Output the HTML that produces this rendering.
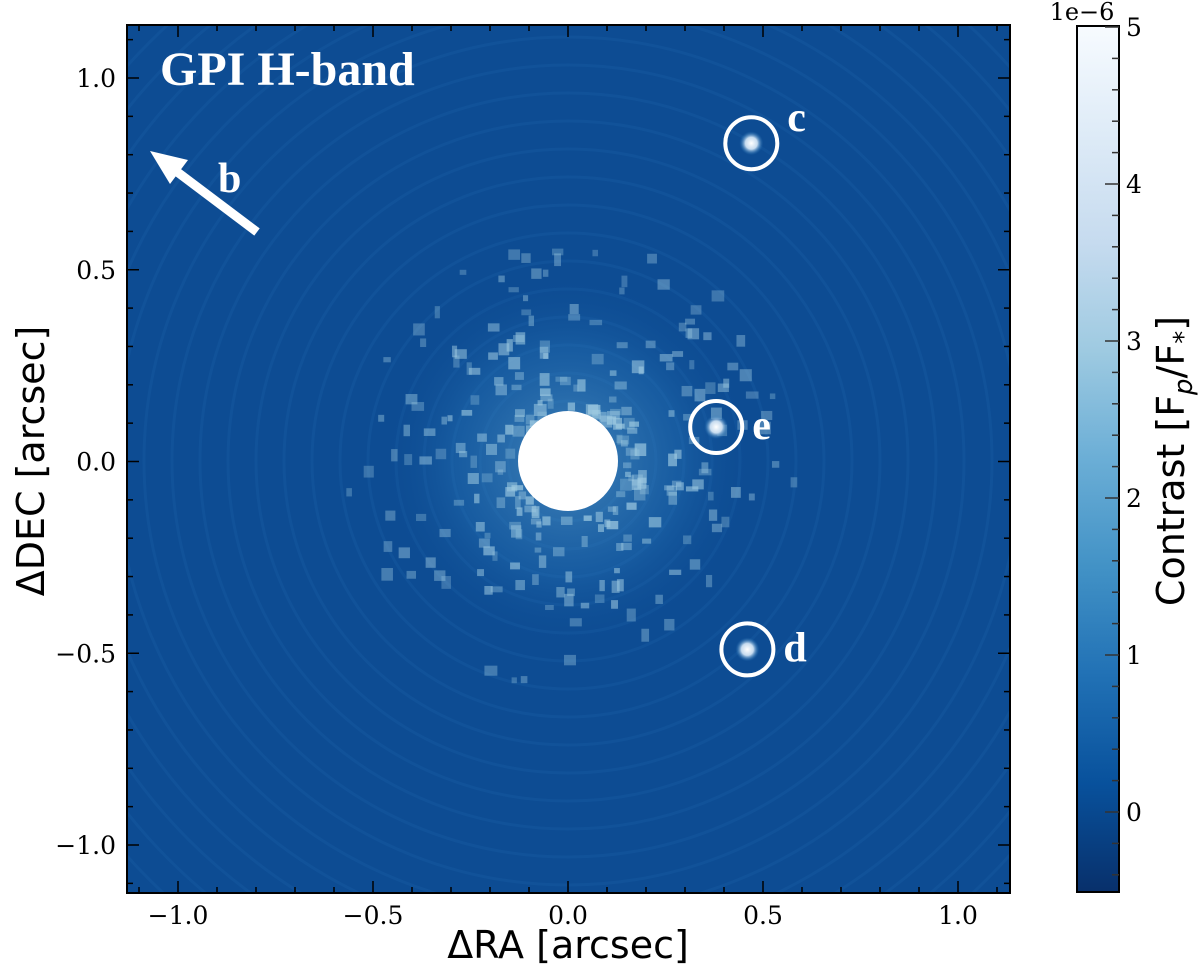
<!DOCTYPE html>
<html><head><meta charset="utf-8"><style>
html,body{margin:0;background:#fff;width:1200px;height:975px;overflow:hidden}
svg{display:block}
</style></head><body>
<svg id="fig" width="1200" height="975" xmlns="http://www.w3.org/2000/svg">
<defs>
<linearGradient id="blues" x1="0" y1="1" x2="0" y2="0">
<stop offset="0" stop-color="#08306b"/><stop offset="0.125" stop-color="#08519c"/><stop offset="0.25" stop-color="#2171b5"/><stop offset="0.375" stop-color="#4292c6"/><stop offset="0.5" stop-color="#6baed6"/><stop offset="0.625" stop-color="#9ecae1"/><stop offset="0.75" stop-color="#c6dbef"/><stop offset="0.875" stop-color="#deebf7"/><stop offset="1" stop-color="#f7fbff"/>
</linearGradient>
<radialGradient id="halo" cx="0.5" cy="0.5" r="0.5">
<stop offset="0" stop-color="#6baed6" stop-opacity="0.6"/><stop offset="0.6" stop-color="#2f7fc0" stop-opacity="0.3"/><stop offset="1" stop-color="#0b4a91" stop-opacity="0"/>
</radialGradient>
<radialGradient id="pl" cx="0.5" cy="0.5" r="0.5">
<stop offset="0" stop-color="#ffffff"/><stop offset="0.5" stop-color="#c6dbef"/><stop offset="1" stop-color="#2171b5" stop-opacity="0"/>
</radialGradient>
<clipPath id="plotclip"><rect x="127" y="25" width="883" height="868"/></clipPath>
</defs>
<g clip-path="url(#plotclip)">
<rect x="127" y="25" width="883" height="868" fill="#0d4c93"/>
<g id="rings" fill="none" stroke="#195ea6" stroke-opacity="0.35"></g>
<circle cx="568" cy="461" r="190" fill="url(#halo)"/>
<g id="speckles" fill="#9ecae1"></g>
</g>
<circle cx="568" cy="461" r="50" fill="#fff"/>
<g id="planets"></g>
<text x="160" y="85" font-family="Liberation Serif, serif" font-weight="bold" font-size="48" fill="#fff">GPI H-band</text>
<g>
<line x1="257" y1="232" x2="172" y2="168" stroke="#fff" stroke-width="9"/>
<polygon points="150,151 188,160 170,184" fill="#fff"/>
</g>
<text x="218" y="192" font-family="Liberation Serif, serif" font-weight="bold" font-size="42" fill="#fff">b</text>
<rect x="127" y="25" width="883" height="868" fill="none" stroke="#000" stroke-width="2"/>
<g id="ticks" stroke="#000" stroke-width="1.5"></g>
<g id="ticklabels" font-family="DejaVu Serif, serif" font-size="25" fill="#000"></g>
<text x="568" y="958" text-anchor="middle" font-family="DejaVu Sans, sans-serif" font-size="38">ΔRA [arcsec]</text>
<text transform="translate(44,461) rotate(-90)" text-anchor="middle" font-family="DejaVu Sans, sans-serif" font-size="38">ΔDEC [arcsec]</text>
<rect x="1077" y="26" width="42" height="866" fill="url(#blues)" stroke="#000" stroke-width="2"/>
<g id="cbticks" stroke="#333" stroke-width="1.5"></g>
<g id="cblabels" font-family="DejaVu Serif, serif" font-size="25"></g>
<text x="1082" y="20" text-anchor="middle" font-family="DejaVu Serif, serif" font-size="24">1e−6</text>
<text transform="translate(1184,461) rotate(-90)" text-anchor="middle" font-family="DejaVu Sans, sans-serif" font-size="38">Contrast [F<tspan font-size="26" dy="8" font-style="italic">p</tspan><tspan dy="-8">/F</tspan><tspan font-size="26" dy="8">*</tspan><tspan dy="-8">]</tspan></text>
</svg>
<script>
const xTicks=[-1.0,-0.5,0.0,0.5,1.0];
const yTicks=[-1.0,-0.5,0.0,0.5,1.0];
const cbTicks=[0,1,2,3,4,5];
const planetNames=["c","e","d"];
const planetRA=[0.47,0.38,0.46];
const planetDEC=[0.83,0.09,-0.49];
const NS="http://www.w3.org/2000/svg";
const X=v=>568+v*390, Y=v=>461.5-v*383.5, C=v=>812-v*157;
function mk(tag,attrs,parent){const e=document.createElementNS(NS,tag);for(const k in attrs)e.setAttribute(k,attrs[k]);parent.appendChild(e);return e;}
const tk=document.getElementById('ticks'),tl=document.getElementById('ticklabels');
const fmt=v=>(v<0?'−':'')+Math.abs(v).toFixed(1);
for(let v=-1.1;v<=1.11;v+=0.1){const r=Math.round(v*10)/10;const major=Math.abs(r*2-Math.round(r*2))<1e-6;const L=major?12:6;
 const x=X(r),y=Y(r);
 if(x>127&&x<1010){mk('line',{x1:x,y1:893,x2:x,y2:893-L},tk);mk('line',{x1:x,y1:25,x2:x,y2:25+L},tk);}
 if(y>25&&y<893){mk('line',{x1:127,y1:y,x2:127+L,y2:y},tk);mk('line',{x1:1010,y1:y,x2:1010-L,y2:y},tk);}}
xTicks.forEach(v=>{const t=mk('text',{x:X(v),y:924,'text-anchor':'middle'},tl);t.textContent=fmt(v);

});
yTicks.forEach(v=>{const t=mk('text',{x:116,y:Y(v)+9,'text-anchor':'end'},tl);t.textContent=fmt(v);

});
const ct=document.getElementById('cbticks'),cl=document.getElementById('cblabels');
for(let v=-0.4;v<=5.01;v+=0.2){const r=Math.round(v*5)/5;const major=Math.abs(r-Math.round(r))<1e-6;const y=C(r);
 mk('line',{x1:1119,y1:y,x2:major?1105:1112,y2:y},ct);}
cbTicks.forEach(v=>{const t=mk('text',{x:1126,y:C(v)+9},cl);t.textContent=v;

});
const rg=document.getElementById('rings');
for(let r=60;r<640;r+=28){mk('circle',{cx:568,cy:461,r:r,'stroke-width':3},rg);}
const sp=document.getElementById('speckles');
let s=7;const rnd=()=>{s=(s*16807)%2147483647;return s/2147483647;};
for(let i=0;i<260;i++){const a=rnd()*6.283,rr=55+Math.pow(rnd(),1.6)*170;
 mk('rect',{x:568+rr*Math.cos(a),y:461+rr*Math.sin(a),width:5+rnd()*8,height:5+rnd()*8,opacity:0.3+0.6*rnd()*(1-rr/260)},sp);}
const pg=document.getElementById('planets');
planetNames.forEach((n,i)=>{const cx=X(planetRA[i]),cy=Y(planetDEC[i]);
 const g=mk('g',{},pg);
 
 
 mk('circle',{cx:cx,cy:cy,r:12,fill:'url(#pl)'},g);
 mk('circle',{cx:cx,cy:cy,r:26,fill:'none',stroke:'#fff','stroke-width':4},g);
 const t=mk('text',{x:cx+36,y:cy+(n==='c'?-12:12),'font-family':'Liberation Serif, serif','font-weight':'bold','font-size':42,fill:'#fff'},g);
 t.textContent=n;});
</script>
</body></html>
